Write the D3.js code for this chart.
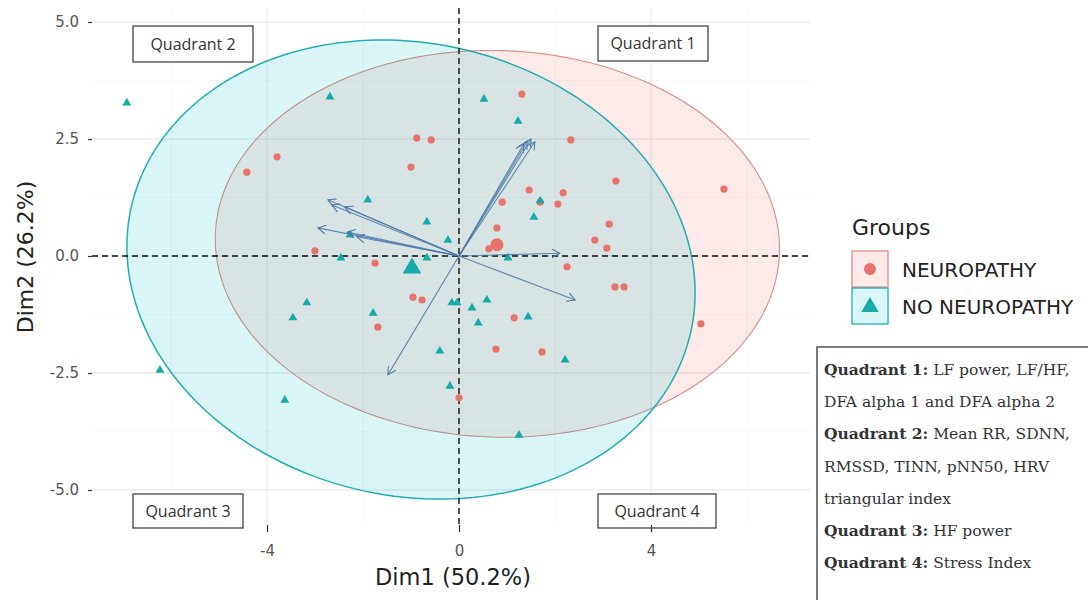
<!DOCTYPE html>
<html>
<head>
<meta charset="utf-8">
<style>
body { margin: 0; background: #fff; }
svg { display: block; }
</style>
</head>
<body></body>
<script src="https://d3js.org/d3.v7.min.js"></script>
<script>

// individuals
var neuroX = [-4.42, -3.79, -0.88, -0.58, -1.00, -3.00, -1.75, -0.96, -0.77, -1.69, 1.31, 2.33, 3.27, 5.52, 1.46, 2.17,
	0.90, 2.06, 1.69, 3.13, 0.79, 2.83, 3.08, 2.25, 3.25, 3.44, 1.15, 0.77, 1.73, 5.04, 0.00, 0.62];
var neuroY = [1.79, 2.12, 2.52, 2.48, 1.90, 0.11, -0.15, -0.88, -0.94, -1.52, 3.46, 2.48, 1.60, 1.43, 1.41, 1.35,
	1.15, 1.11, 1.15, 0.68, 0.60, 0.34, 0.17, -0.23, -0.66, -0.66, -1.32, -1.99, -2.05, -1.45, -3.03, 0.15];

var noNeuroX = [-6.92, -2.69, 0.52, 1.23, -1.90, -0.67, -0.23, -2.27, -2.46, -0.67, 1.56, 1.69, 1.02, -3.17, -3.46,
	-1.79, -0.15, -0.04, 0.27, 0.58, 0.40, 1.44, -0.40, 2.21, -0.19, -6.23, -3.63, 1.25];
var noNeuroY = [3.27, 3.40, 3.35, 2.88, 1.20, 0.73, 0.34, 0.45, -0.04, -0.04, 0.83, 1.18, -0.04, -1.00, -1.32,
	-1.22, -1.00, -1.00, -1.11, -0.94, -1.43, -1.30, -2.03, -2.22, -2.78, -2.44, -3.08, -3.83];

var groups = ["NEUROPATHY", "NO NEUROPATHY"];
var groupColors = ["#E8736C", "#14ABA8"];
var centroidX = [0.79, -0.98];
var centroidY = [0.24, -0.26];

// concentration ellipses (centre, semi axes, tilt in degrees)
var ellipseCx = [0.80, -1.00];
var ellipseCy = [0.26, -0.29];
var ellipseA = [5.88, 5.98];
var ellipseB = [4.13, 4.83];
var ellipseTilt = [-2, -14];

// variable arrows
var varX = [1.58, 1.50, 1.42, 1.35, 2.10, 2.42, -1.48, -2.73, -2.65, -2.38, -2.94, -2.33, -2.13];
var varY = [2.44, 2.50, 2.45, 2.40, 0.06, -0.94, -2.54, 1.20, 1.09, 1.05, 0.60, 0.51, 0.41];

var xTicks = [-4, 0, 4];
var yTicks = [-5, -2.5, 0, 2.5, 5];
var xMinor = [-6, -2, 2, 6];
var yMinor = [-3.75, -1.25, 1.25, 3.75];

var quadrantLabels = ["Quadrant 1", "Quadrant 2", "Quadrant 3", "Quadrant 4"];
var noteBold = ["Quadrant 1:", "", "Quadrant 2:", "", "", "Quadrant 3:", "Quadrant 4:"];
var noteText = [" LF power, LF/HF,", "DFA alpha 1 and DFA alpha 2", " Mean RR, SDNN,", "RMSSD, TINN, pNN50, HRV",
	"triangular index", " HF power", " Stress Index"];

var W = 1088, H = 600;
var panel = { left: 92, right: 810, top: 8, bottom: 525 };

var x = d3.scaleLinear().domain([-7.646, 7.3125]).range([panel.left, panel.right]);
var y = d3.scaleLinear().domain([-5.748, 5.299]).range([panel.bottom, panel.top]);

var svg = d3.select("body").append("svg")
	.attr("width", W)
	.attr("height", H)
	.style("font-family", "'DejaVu Sans', sans-serif");

svg.append("defs").append("marker")
	.attr("id", "head")
	.attr("viewBox", "0 0 10 10")
	.attr("refX", 9).attr("refY", 5)
	.attr("markerWidth", 9).attr("markerHeight", 9)
	.attr("markerUnits", "userSpaceOnUse")
	.attr("orient", "auto")
  .append("path")
	.attr("d", "M0,0 L9,5 L0,10")
	.attr("fill", "none")
	.attr("stroke", "#4A78A8")
	.attr("stroke-width", 1.2);

// grid
var grid = svg.append("g");
grid.selectAll(".vmin").data(xMinor).enter().append("line")
	.attr("x1", d => x(d)).attr("x2", d => x(d))
	.attr("y1", panel.top).attr("y2", panel.bottom)
	.attr("stroke", "#f3f3f3").attr("stroke-width", 0.7);
grid.selectAll(".hmin").data(yMinor).enter().append("line")
	.attr("y1", d => y(d)).attr("y2", d => y(d))
	.attr("x1", panel.left).attr("x2", panel.right)
	.attr("stroke", "#f3f3f3").attr("stroke-width", 0.7);
grid.selectAll(".vmaj").data(xTicks).enter().append("line")
	.attr("x1", d => x(d)).attr("x2", d => x(d))
	.attr("y1", panel.top).attr("y2", panel.bottom)
	.attr("stroke", "#ebebeb").attr("stroke-width", 1.3);
grid.selectAll(".hmaj").data(yTicks).enter().append("line")
	.attr("y1", d => y(d)).attr("y2", d => y(d))
	.attr("x1", panel.left).attr("x2", panel.right)
	.attr("stroke", "#ebebeb").attr("stroke-width", 1.3);

// ellipses
function ellipsePath(i) {
	var th = ellipseTilt[i] * Math.PI / 180, pts = [];
	for (var k = 0; k <= 180; k++) {
		var t = k / 180 * 2 * Math.PI;
		var ex = ellipseA[i] * Math.cos(t), ey = ellipseB[i] * Math.sin(t);
		pts.push([ellipseCx[i] + ex * Math.cos(th) - ey * Math.sin(th),
			ellipseCy[i] + ex * Math.sin(th) + ey * Math.cos(th)]);
	}
	return d3.line().x(d => x(d[0])).y(d => y(d[1])).curve(d3.curveLinearClosed)(pts);
}

var ellColors = ["#F8766D", "#00BFC4"];
var ellStroke = ["#DE8A84", "#22AEB2"];
svg.append("g").selectAll("path")
	.data([0, 1])
	.enter().append("path")
	.attr("d", d => ellipsePath(d))
	.attr("fill", d => ellColors[d])
	.attr("fill-opacity", 0.15)
	.attr("stroke", d => ellStroke[d])
	.attr("stroke-width", d => d ? 1.5 : 1.1);

// quadrant boxes (annotation)
var qBoxes = [[598, 26, 110, 35], [133, 26, 120, 36], [133, 494, 110, 34], [598, 494, 118, 34]];
var qg = svg.append("g").selectAll("g").data(quadrantLabels).enter().append("g");
qg.append("rect")
	.attr("x", (d, i) => qBoxes[i][0]).attr("y", (d, i) => qBoxes[i][1])
	.attr("width", (d, i) => qBoxes[i][2]).attr("height", (d, i) => qBoxes[i][3])
	.attr("fill", "#fff").attr("stroke", "#444").attr("stroke-width", 1.3);
qg.append("text")
	.attr("x", (d, i) => qBoxes[i][0] + qBoxes[i][2] / 2)
	.attr("y", (d, i) => qBoxes[i][1] + qBoxes[i][3] / 2 + 5.5)
	.attr("text-anchor", "middle")
	.attr("font-family", "'Open Sans', sans-serif")
	.attr("font-size", 16)
	.attr("fill", "#333")
	.text(d => d);

// reference lines
svg.append("line")
	.attr("x1", panel.left).attr("x2", panel.right)
	.attr("y1", y(0)).attr("y2", y(0))
	.attr("stroke", "#111").attr("stroke-width", 1.4).attr("stroke-dasharray", "6,4");
svg.append("line")
	.attr("x1", x(0)).attr("x2", x(0))
	.attr("y1", panel.top).attr("y2", panel.bottom)
	.attr("stroke", "#111").attr("stroke-width", 1.4).attr("stroke-dasharray", "6,4");

// points
var tri = d3.symbol().type(d3.symbolTriangle);
svg.append("g").selectAll("circle")
	.data(d3.range(neuroX.length))
	.enter().append("circle")
	.attr("cx", i => x(neuroX[i]))
	.attr("cy", i => y(neuroY[i]))
	.attr("r", 3.6)
	.attr("fill", groupColors[0]);
svg.append("g").selectAll("path")
	.data(d3.range(noNeuroX.length))
	.enter().append("path")
	.attr("d", tri.size(34)())
	.attr("transform", i => "translate(" + x(noNeuroX[i]) + "," + y(noNeuroY[i]) + ")")
	.attr("fill", groupColors[1]);

// variable arrows
svg.append("g").selectAll("line")
	.data(d3.range(varX.length))
	.enter().append("line")
	.attr("x1", x(0)).attr("y1", y(0))
	.attr("x2", i => x(varX[i])).attr("y2", i => y(varY[i]))
	.attr("stroke", "#4A78A8")
	.attr("stroke-opacity", 0.85)
	.attr("stroke-width", 1.1)
	.attr("marker-end", "url(#head)");

// group centroids
svg.append("circle")
	.attr("cx", x(centroidX[0])).attr("cy", y(centroidY[0]))
	.attr("r", 6.5).attr("fill", groupColors[0]);
svg.append("path")
	.attr("d", tri.size(150)())
	.attr("transform", "translate(" + x(centroidX[1]) + "," + y(centroidY[1]) + ")")
	.attr("fill", groupColors[1]);

// axes
var hyphen = f => (d => f(d).replace("\u2212", "-"));
var yAxis = svg.append("g")
	.attr("transform", "translate(" + panel.left + ",0)")
	.call(d3.axisLeft(y).tickValues(yTicks).tickFormat(hyphen(d3.format(".1f"))).tickSize(4).tickPadding(9));
var xAxis = svg.append("g")
	.attr("transform", "translate(0," + panel.bottom + ")")
	.call(d3.axisBottom(x).tickValues(xTicks).tickFormat(hyphen(d3.format("d"))).tickSize(7).tickPadding(13));
[xAxis, yAxis].forEach(a => {
	a.select(".domain").remove();
	a.selectAll("line").attr("stroke", "#333").attr("stroke-width", 1.2);
	a.selectAll("text").attr("fill", "#555").attr("font-size", 15).attr("font-family", "'DejaVu Sans', sans-serif");
});

svg.append("text")
	.attr("x", x(0) - 6).attr("y", 585)
	.attr("text-anchor", "middle")
	.attr("font-size", 22.5)
	.attr("fill", "#222")
	.text("Dim1 (50.2%)");
svg.append("text")
	.attr("transform", "translate(33," + (y(0) + 1) + ") rotate(-90)")
	.attr("text-anchor", "middle")
	.attr("font-size", 22)
	.attr("fill", "#222")
	.text("Dim2 (26.2%)");

// legend
var lg = svg.append("g").attr("transform", "translate(852,0)");
lg.append("text").attr("x", 0).attr("y", 235).attr("font-size", 22).attr("fill", "#222").text("Groups");
var keys = lg.selectAll(".key").data(groups).enter().append("g")
	.attr("transform", (d, i) => "translate(0," + (251 + i * 37) + ")");
keys.append("rect")
	.attr("width", 36).attr("height", 36)
	.attr("fill", (d, i) => ellColors[i]).attr("fill-opacity", 0.15)
	.attr("stroke", (d, i) => ellStroke[i]).attr("stroke-width", 1.3);
keys.append("text")
	.attr("x", 50).attr("y", 26)
	.attr("font-size", 20)
	.attr("fill", "#222")
	.text(d => d);
keys.filter((d, i) => i == 0).append("circle")
	.attr("cx", 18).attr("cy", 18).attr("r", 6).attr("fill", groupColors[0]);
keys.filter((d, i) => i == 1).append("path")
	.attr("d", tri.size(130)())
	.attr("transform", "translate(18,19)")
	.attr("fill", groupColors[1]);

// note box
svg.append("rect")
	.attr("x", 817).attr("y", 347).attr("width", 300).attr("height", 300)
	.attr("fill", "#fff").attr("stroke", "#333").attr("stroke-width", 1.3);
var note = svg.append("g").selectAll("text")
	.data(noteText).enter().append("text")
	.attr("x", 824)
	.attr("y", (d, i) => 375 + i * 32.2)
	.attr("font-family", "'DejaVu Serif', serif")
	.attr("font-size", 15.5)
	.attr("fill", "#333");
note.append("tspan").attr("font-weight", "bold").text((d, i) => noteBold[i]);
note.append("tspan").text(d => d);

</script>
</html>
